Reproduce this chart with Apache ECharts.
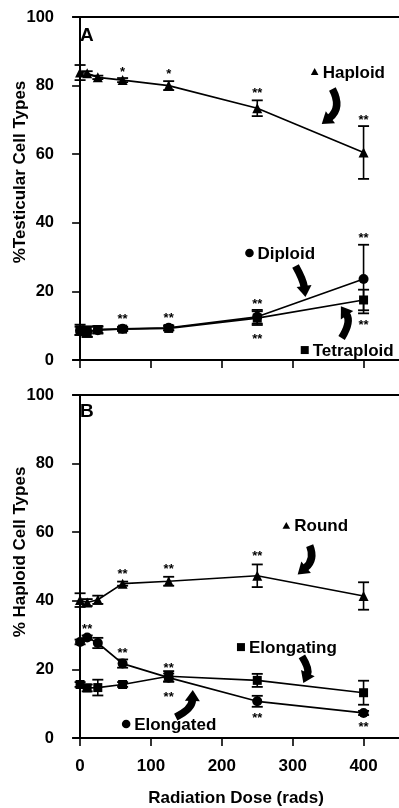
<!DOCTYPE html>
<html><head><meta charset="utf-8">
<script src="https://cdn.jsdelivr.net/npm/echarts@6/dist/echarts.min.js"></script>
<style>html,body{margin:0;padding:0;background:#fff}#c{width:399px;height:808px}</style>
</head><body><div id="c"></div>
<script>
// ---------- data ----------
const doses = [0, 10, 25, 60, 125, 250, 400];
const xTicks = [0, 100, 200, 300, 400];
const yTicks = [0, 20, 40, 60, 80, 100];

// Panel A (% testicular cell types)
const haploidMean = [83.8, 83.6, 82.4, 81.6, 80.0, 73.4, 60.5];
const haploidErr  = [2.2, 0.6, 0.5, 0.6, 1.3, 2.3, 7.7];
const diploidMean = [8.5, 8.2, 8.7, 9.1, 9.4, 12.6, 23.6];
const diploidErr  = [1.2, 1.5, 1.0, 0.6, 0.7, 2.0, 10.0];
const tetraMean   = [8.8, 8.3, 8.9, 9.0, 9.2, 12.2, 17.5];
const tetraErr    = [1.5, 1.5, 1.0, 0.5, 0.6, 2.0, 3.0];

// Panel B (% haploid cell types)
const roundMean      = [40.2, 39.5, 40.3, 45.0, 45.7, 47.3, 41.4];
const roundErr       = [2.0, 1.0, 1.2, 0.6, 1.3, 3.3, 4.0];
const elongatedMean  = [28.0, 29.3, 27.7, 21.7, 17.6, 10.7, 7.3];
const elongatedErr   = [0.7, 0.6, 1.5, 1.2, 1.2, 1.6, 0.6];
const elongatingMean = [15.6, 14.6, 14.7, 15.6, 18.0, 16.8, 13.2];
const elongatingErr  = [0.7, 1.0, 2.3, 0.7, 1.5, 1.9, 3.5];

// significance marks: [dose, y, text]
const starsA = [[60, 84.6, '*'], [125, 84.0, '*'], [250, 78.7, '**'], [400, 70.8, '**'],
  [60, 12.8, '**'], [125, 13.1, '**'], [250, 17.2, '**'], [250, 6.8, '**'], [400, 36.4, '**'], [400, 10.9, '**']];
const starsB = [[60, 48.6, '**'], [125, 49.9, '**'], [250, 53.8, '**'],
  [10, 32.6, '**'], [60, 25.4, '**'], [125, 21.2, '**'], [125, 12.8, '**'], [250, 6.5, '**'], [400, 3.9, '**']];

// series labels: [grid, symbol, dose, y, text]
const seriesLabels = [
  [0, 'triangle', 331, 84.0, 'Haploid'],
  [0, 'circle', 239, 31.2, 'Diploid'],
  [0, 'rect', 317, 2.9, 'Tetraploid'],
  [1, 'triangle', 291, 61.9, 'Round'],
  [1, 'rect', 227, 26.5, 'Elongating'],
  [1, 'circle', 65, 4.1, 'Elongated']
];
// arrows: [grid, start, control, tip] in data coords
const arrows = [
  [0, [356, 79.0], [370, 73.5], [341, 68.8]],
  [0, [304, 27.4], [315, 23.3], [318, 18.4]],
  [0, [369, 6.4], [383, 11.1], [368, 15.7]],
  [1, [324, 56.1], [332, 52.0], [307, 47.7]],
  [1, [313, 23.8], [324, 20.1], [315, 16.0]],
  [1, [135, 6.1], [158, 8.4], [159, 14.0]]
];

// ---------- chart ----------
const FONT = "'Liberation Sans', Arial, Helvetica, sans-serif";
const chart = echarts.init(document.getElementById('c'));

function xAxisFor(gi, showLabels) {
  return {
    type: 'value', gridIndex: gi, min: -10, max: 450, position: 'bottom',
    axisLine: { show: true, lineStyle: { color: '#000', width: 2 } },
    axisTick: { show: true, inside: false, length: 8, customValues: xTicks, lineStyle: { color: '#000', width: 1.6 } },
    axisLabel: { show: showLabels, customValues: xTicks, margin: 20, color: '#000', fontFamily: FONT, fontWeight: 'bold', fontSize: 17 },
    splitLine: { show: false },
    name: showLabels ? 'Radiation Dose (rads)' : '',
    nameLocation: 'middle', nameGap: 52,
    nameTextStyle: { color: '#000', fontFamily: FONT, fontWeight: 'bold', fontSize: 17 }
  };
}
function topAxisFor(gi) {
  return {
    type: 'value', gridIndex: gi, min: -10, max: 450, position: 'top',
    axisLine: { show: true, lineStyle: { color: '#000', width: 2 } },
    axisTick: { show: false }, axisLabel: { show: false }, splitLine: { show: false }
  };
}
function yAxisFor(gi) {
  return {
    type: 'value', gridIndex: gi, min: 0, max: 100, interval: 20,
    axisLine: { show: true, lineStyle: { color: '#000', width: 2 } },
    axisTick: { show: true, inside: false, length: 8, lineStyle: { color: '#000', width: 1.6 } },
    axisLabel: { margin: 19, color: '#000', fontFamily: FONT, fontWeight: 'bold', fontSize: 16.5 },
    splitLine: { show: false }
  };
}
function lineSeries(gi, mean, symbol, size) {
  return {
    type: 'line', xAxisIndex: gi * 2, yAxisIndex: gi,
    data: doses.map((d, i) => [d, mean[i]]),
    symbol: symbol, symbolSize: size, showSymbol: true,
    lineStyle: { color: '#000', width: 1.7 }, itemStyle: { color: '#000' },
    z: 4, silent: true, animation: false
  };
}
function errSeries(gi, mean, err) {
  return {
    type: 'custom', xAxisIndex: gi * 2, yAxisIndex: gi,
    data: doses.map((d, i) => [d, mean[i] - err[i], mean[i] + err[i]]),
    encode: { x: 0, y: [1, 2] },
    renderItem: function (params, api) {
      const lo = api.coord([api.value(0), api.value(1)]);
      const hi = api.coord([api.value(0), api.value(2)]);
      const w = 5.5;
      return {
        type: 'group', children: [
          { type: 'line', shape: { x1: lo[0], y1: lo[1], x2: hi[0], y2: hi[1] }, style: { stroke: '#000', lineWidth: 1.6 } },
          { type: 'line', shape: { x1: lo[0] - w, y1: lo[1], x2: lo[0] + w, y2: lo[1] }, style: { stroke: '#000', lineWidth: 1.8 } },
          { type: 'line', shape: { x1: hi[0] - w, y1: hi[1], x2: hi[0] + w, y2: hi[1] }, style: { stroke: '#000', lineWidth: 1.8 } }
        ]
      };
    },
    z: 3, silent: true, animation: false
  };
}
function starSeries(gi, stars) {
  return {
    type: 'custom', xAxisIndex: gi * 2, yAxisIndex: gi,
    data: stars.map(s => [s[0], s[1]]),
    renderItem: function (params, api) {
      const p = api.coord([api.value(0), api.value(1)]);
      return {
        type: 'text', x: p[0], y: p[1] + 3,
        style: { text: stars[params.dataIndex][2], font: 'bold 13px ' + FONT, fill: '#000', textAlign: 'center', textVerticalAlign: 'middle' }
      };
    },
    z: 5, silent: true, animation: false
  };
}

const option = {
  animation: false,
  backgroundColor: '#fff',
  grid: [
    { left: 73, top: 17, right: 0, height: 343 },
    { left: 73, top: 395, right: 0, height: 344 }
  ],
  xAxis: [xAxisFor(0, false), topAxisFor(0), xAxisFor(1, true), topAxisFor(1)],
  yAxis: [yAxisFor(0), yAxisFor(1)],
  series: [
    lineSeries(0, haploidMean, 'triangle', 10), errSeries(0, haploidMean, haploidErr),
    lineSeries(0, diploidMean, 'circle', 10), errSeries(0, diploidMean, diploidErr),
    lineSeries(0, tetraMean, 'rect', 9), errSeries(0, tetraMean, tetraErr),
    starSeries(0, starsA),
    lineSeries(1, roundMean, 'triangle', 10), errSeries(1, roundMean, roundErr),
    lineSeries(1, elongatedMean, 'circle', 10), errSeries(1, elongatedMean, elongatedErr),
    lineSeries(1, elongatingMean, 'rect', 9), errSeries(1, elongatingMean, elongatingErr),
    starSeries(1, starsB)
  ]
};
chart.setOption(option);

// ---------- annotations ----------
function px(gi, pt) { return chart.convertToPixel({ gridIndex: gi }, pt); }
const graphics = [];
graphics.push({ type: 'text', x: 20, y: 172, rotation: Math.PI / 2,
  style: { text: '%Testicular Cell Types', font: 'bold 17px ' + FONT, fill: '#000', textAlign: 'center', textVerticalAlign: 'middle' } });
graphics.push({ type: 'text', x: 20, y: 552, rotation: Math.PI / 2,
  style: { text: '% Haploid Cell Types', font: 'bold 17px ' + FONT, fill: '#000', textAlign: 'center', textVerticalAlign: 'middle' } });
graphics.push({ type: 'text', x: 80, y: 36,
  style: { text: 'A', font: 'bold 19px ' + FONT, fill: '#000', textAlign: 'left', textVerticalAlign: 'middle' } });
graphics.push({ type: 'text', x: 80, y: 412,
  style: { text: 'B', font: 'bold 19px ' + FONT, fill: '#000', textAlign: 'left', textVerticalAlign: 'middle' } });

seriesLabels.forEach(function (l) {
  const p = px(l[0], [l[2], l[3]]);
  const s = 3.8;
  if (l[1] === 'triangle') {
    graphics.push({ type: 'polygon', shape: { points: [[p[0], p[1] - s], [p[0] + s, p[1] + s * 0.8], [p[0] - s, p[1] + s * 0.8]] }, style: { fill: '#000' } });
  } else if (l[1] === 'circle') {
    graphics.push({ type: 'circle', shape: { cx: p[0], cy: p[1], r: 4.3 }, style: { fill: '#000' } });
  } else {
    graphics.push({ type: 'rect', shape: { x: p[0] - 4, y: p[1] - 4, width: 8, height: 8 }, style: { fill: '#000' } });
  }
  graphics.push({ type: 'text', x: p[0] + 8, y: p[1] + 1,
    style: { text: l[4], font: 'bold 17px ' + FONT, fill: '#000', textAlign: 'left', textVerticalAlign: 'middle' } });
});

arrows.forEach(function (a) {
  const p0 = px(a[0], a[1]), pc = px(a[0], a[2]), p1 = px(a[0], a[3]);
  let dx = p1[0] - pc[0], dy = p1[1] - pc[1];
  const len = Math.sqrt(dx * dx + dy * dy); dx /= len; dy /= len;
  const hl = 11, hw = 7.5;
  const bx = p1[0] - dx * hl, by = p1[1] - dy * hl;
  graphics.push({ type: 'bezierCurve',
    shape: { x1: p0[0], y1: p0[1], cpx1: pc[0], cpy1: pc[1], x2: bx + dx * 1, y2: by + dy * 1 },
    style: { stroke: '#000', lineWidth: 7.5, fill: null } });
  graphics.push({ type: 'polygon',
    shape: { points: [[p1[0], p1[1]], [bx - dy * hw, by + dx * hw], [bx + dy * hw, by - dx * hw]] },
    style: { fill: '#000' } });
});

chart.setOption({ graphic: graphics });
</script>
</body></html>
